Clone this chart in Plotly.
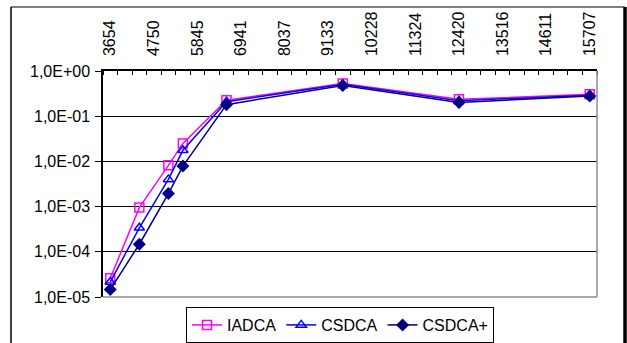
import plotly.graph_objects as go

# Elapsed time (days) and the three measured series
x_days = [3654, 4385, 5115, 5480, 6576, 9498, 12420, 15707]
iadca = [2.6e-5, 9.5e-4, 8.2e-3, 2.5e-2, 0.225, 0.53, 0.236, 0.305]
csdca = [2.15e-5, 3.4e-4, 4.0e-3, 1.76e-2, 0.21, 0.51, 0.22, 0.29]
csdca_plus = [1.46e-5, 1.47e-4, 1.94e-3, 7.9e-3, 0.18, 0.48, 0.20, 0.28]

x_tick_labels = ["3654", "4750", "5845", "6941", "8037", "9133",
                 "10228", "11324", "12420", "13516", "14611", "15707"]
y_tick_vals = [1e-5, 1e-4, 1e-3, 1e-2, 1e-1, 1e0]
y_tick_labels = ["1,0E-05", "1,0E-04", "1,0E-03", "1,0E-02", "1,0E-01", "1,0E+00"]

FONT = "Liberation Sans, Arial, sans-serif"
W, H = 627, 343
L, R, T, B = 103, 597, 71, 297  # plot area in pixels

step = (float(x_tick_labels[-1]) - float(x_tick_labels[0])) / (len(x_tick_labels) - 1)
minor = step / 3
x0 = float(x_tick_labels[0]) - minor / 2
x_range = [x0, x0 + 34 * minor]

fig = go.Figure()
fig.add_trace(go.Scatter(
    x=x_days, y=iadca, name="IADCA", mode="lines+markers",
    line=dict(color="#FF00FF", width=1.5),
    marker=dict(symbol="square-open", size=9, color="#FF00FF", line=dict(width=1.5)),
))
fig.add_trace(go.Scatter(
    x=x_days, y=csdca, name="CSDCA", mode="lines+markers",
    line=dict(color="#0000FF", width=1.5),
    marker=dict(symbol="triangle-up-open", size=9, color="#0000FF", line=dict(width=1.5)),
))
fig.add_trace(go.Scatter(
    x=x_days, y=csdca_plus, name="CSDCA+", mode="lines+markers",
    line=dict(color="#000080", width=1.5),
    marker=dict(symbol="diamond", size=10, color="#000080"),
))


def px(xp):
    return (xp - L) / (R - L)


def py(yp):
    return (B - yp) / (B - T)


shapes = [
    # plot-area frame on the right and bottom (grey)
    dict(type="line", xref="paper", yref="paper", x0=1, x1=1, y0=0, y1=1,
         line=dict(color="#8c8c8c", width=1.5), layer="above"),
    dict(type="line", xref="paper", yref="paper", x0=0, x1=1, y0=0, y1=0,
         line=dict(color="#8c8c8c", width=1.5), layer="above"),
    # chart-area border
    dict(type="line", xref="paper", yref="paper", x0=px(11), x1=px(11), y0=py(7), y1=py(360),
         line=dict(color="black", width=1.5)),
    dict(type="line", xref="paper", yref="paper", x0=px(11), x1=px(625), y0=py(7), y1=py(7),
         line=dict(color="black", width=1)),
    dict(type="line", xref="paper", yref="paper", x0=px(625), x1=px(625), y0=py(7), y1=py(360),
         line=dict(color="black", width=3.5)),
]

fig.update_layout(
    width=W, height=H,
    margin=dict(l=L, r=W - R, t=T, b=H - B, pad=0, autoexpand=False),
    paper_bgcolor="white", plot_bgcolor="white",
    font=dict(family=FONT, size=16, color="black"),
    showlegend=True,
    legend=dict(
        orientation="h", xref="container", yref="container",
        x=340 / W, xanchor="center", y=(H - 325) / H, yanchor="middle",
        bordercolor="black", borderwidth=1, bgcolor="white",
        font=dict(family=FONT, size=16), itemwidth=30, tracegroupgap=0,
    ),
    shapes=shapes,
    xaxis=dict(
        side="top", range=x_range, showgrid=False, zeroline=False, automargin=False,
        showline=True, linecolor="black", linewidth=1.5,
        tickmode="array", tickvals=[float(v) for v in x_tick_labels], ticktext=x_tick_labels,
        ticks="", tickangle=-90, ticklabelstandoff=10,
        tickfont=dict(family=FONT, size=16),
        minor=dict(ticks="inside", ticklen=4, tickwidth=1, tickcolor="black",
                   tickmode="linear", tick0=x0, dtick=minor, showgrid=False),
    ),
    yaxis=dict(
        type="log", range=[-5, 0], zeroline=False, automargin=False,
        showline=True, linecolor="black", linewidth=1.5,
        showgrid=True, gridcolor="black", gridwidth=1,
        tickmode="array", tickvals=y_tick_vals, ticktext=y_tick_labels,
        ticks="outside", ticklen=6, tickcolor="black", tickwidth=1,
        ticklabelstandoff=2,
        tickfont=dict(family=FONT, size=16),
    ),
)

fig.write_html("out.html")
